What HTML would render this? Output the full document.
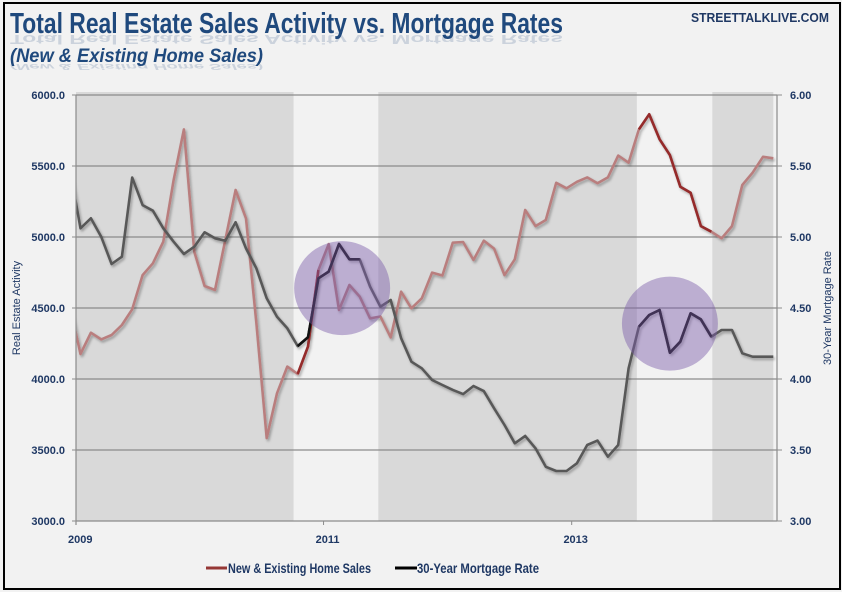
<!DOCTYPE html>
<html><head><meta charset="utf-8"><style>
html,body{margin:0;padding:0;background:#fff;}
svg{display:block;font-family:"Liberation Sans",sans-serif;}
</style></head><body>
<svg id="chart" width="842" height="592" viewBox="0 0 842 592">
<defs>
<filter id="sh" x="-5%" y="-5%" width="110%" height="115%"><feDropShadow dx="1.5" dy="2" stdDeviation="1.2" flood-color="#000" flood-opacity="0.3"/></filter>
<clipPath id="plotclip"><rect x="76" y="80" width="702" height="445"/></clipPath>
</defs>
<rect x="0" y="0" width="842" height="592" fill="#f2f2f2"/>
<g id="bands"></g>
<g id="grid"></g>
<g id="lines" clip-path="url(#plotclip)"></g>
<g id="circles"></g>
<g id="axes"></g>
<g opacity="0.18">
<text transform="translate(0,35) scale(1,-0.45) translate(0,-33)" x="10" y="33" font-size="29" font-weight="bold" fill="#1f497d" textLength="553" lengthAdjust="spacingAndGlyphs">Total Real Estate Sales Activity vs. Mortgage Rates</text>
<text transform="translate(0,64) scale(1,-0.45) translate(0,-62)" x="10" y="62" font-size="19" font-weight="bold" font-style="italic" fill="#1f497d" textLength="253" lengthAdjust="spacingAndGlyphs">(New &amp; Existing Home Sales)</text>
</g>
<text x="10" y="33" font-size="29" font-weight="bold" fill="#1f497d" textLength="553" lengthAdjust="spacingAndGlyphs">Total Real Estate Sales Activity vs. Mortgage Rates</text>
<text x="10" y="62" font-size="19" font-weight="bold" font-style="italic" fill="#1f497d" textLength="253" lengthAdjust="spacingAndGlyphs">(New &amp; Existing Home Sales)</text>
<text x="829" y="22" font-size="12.5" font-weight="bold" fill="#1f3864" text-anchor="end" textLength="138" lengthAdjust="spacingAndGlyphs">STREETTALKLIVE.COM</text>
<text transform="translate(20,308) rotate(-90)" font-size="11" fill="#1f3864" text-anchor="middle">Real Estate Activity</text>
<text transform="translate(831,308) rotate(-90)" font-size="11" fill="#1f3864" text-anchor="middle">30-Year Mortgage Rate</text>
<g>
<g>
<line x1="206" y1="568" x2="227" y2="568" stroke="#953735" stroke-width="3"/>
<text x="228" y="573" font-size="14" font-weight="bold" fill="#1f3864" textLength="143" lengthAdjust="spacingAndGlyphs">New &amp; Existing Home Sales</text></g>
<g>
<line x1="395" y1="568" x2="417" y2="568" stroke="#000" stroke-width="3"/>
<text x="417" y="573" font-size="14" font-weight="bold" fill="#1f3864" textLength="122" lengthAdjust="spacingAndGlyphs">30-Year Mortgage Rate</text></g>
</g>
<rect x="4" y="3" width="836" height="586" fill="none" stroke="#000" stroke-width="2"/>
</svg>
<script>
// i = 0 is Dec 2008, monthly
const salesValues = [4505,4176,4326,4279,4310,4380,4491,4732,4815,4967,5400,5758,4896,4655,4627,4979,5331,5131,4400,3584,3899,4087,4035,4228,4767,4950,4486,4662,4580,4427,4440,4293,4615,4498,4568,4749,4729,4960,4965,4838,4974,4918,4732,4843,5190,5077,5120,5382,5343,5389,5420,5378,5420,5573,5523,5758,5864,5688,5577,5354,5312,5077,5037,4991,5077,5366,5453,5565,5554];
const rateValues = [5.47,5.061,5.132,5.002,4.810,4.861,5.418,5.225,5.185,5.061,4.967,4.880,4.932,5.033,4.991,4.974,5.104,4.920,4.780,4.568,4.439,4.357,4.232,4.294,4.709,4.756,4.951,4.843,4.843,4.650,4.509,4.556,4.287,4.122,4.075,3.993,3.958,3.923,3.894,3.951,3.915,3.794,3.676,3.547,3.599,3.512,3.382,3.352,3.352,3.406,3.535,3.566,3.453,3.535,4.075,4.368,4.451,4.486,4.185,4.263,4.463,4.420,4.298,4.345,4.345,4.181,4.157,4.157,4.157];
const leftTicks = ["3000.0","3500.0","4000.0","4500.0","5000.0","5500.0","6000.0"];
const rightTicks = ["3.00","3.50","4.00","4.50","5.00","5.50","6.00"];
const yearLabels = ["2009","2011","2013"];
const yearMonthIndex = [1,25,49];
const bandRanges = [[0.5,21.6],[29.8,54.8],[62.1,68]];
const darkSalesRanges = [[22,24],[55,62]];
const darkRateRanges = [[22,28],[55,62]];
const circleCenters = [[26.3,4640],[58,4390]];

const NS="http://www.w3.org/2000/svg";
const X0=70.2, DX=10.34, YT=95, YB=521;
const xs=i=>X0+DX*i;
const yL=v=>YB-(v-3000)/3000*(YB-YT);
const yR=v=>YB-(v-3)/3*(YB-YT);
function mk(tag,attrs,parent){const e=document.createElementNS(NS,tag);for(const k in attrs)e.setAttribute(k,attrs[k]);parent.appendChild(e);return e;}
const bands=document.getElementById('bands'),grid=document.getElementById('grid'),lines=document.getElementById('lines'),circles=document.getElementById('circles'),axes=document.getElementById('axes');

bandRanges.forEach(r=>{
  const x1=Math.max(76,xs(r[0])), x2=Math.min(776,xs(r[1]));
  const b=mk('rect',{x:x1,y:92,width:x2-x1,height:YB-92,fill:'#d9d9d9'},bands);
  
  
});
leftTicks.forEach((t,k)=>{
  const v=3000+500*k, y=yL(v);
  if(k>0){const g=mk('line',{x1:76,x2:777,y1:y,y2:y,stroke:'#8c8c8c','stroke-width':1.2},grid);
  
  }
  const tl=mk('text',{x:65,y:y+4,'font-size':11,'font-weight':'bold',fill:'#1f3864','text-anchor':'end'},axes);
  tl.textContent=t;
  
  
  mk('line',{x1:72,x2:76,y1:y,y2:y,stroke:'#8c8c8c'},axes);
});
rightTicks.forEach((t,k)=>{
  const v=3+0.5*k, y=yR(v);
  const tl=mk('text',{x:790,y:y+4,'font-size':11,'font-weight':'bold',fill:'#1f3864'},axes);
  tl.textContent=t;
  
  
  mk('line',{x1:777,x2:782,y1:y,y2:y,stroke:'#8c8c8c'},axes);
});
mk('line',{x1:76,x2:76,y1:YT,y2:YB+4,stroke:'#8c8c8c','stroke-width':1.2},axes);
mk('line',{x1:777,x2:777,y1:YT,y2:YB,stroke:'#8c8c8c','stroke-width':1.2},axes);
mk('line',{x1:76,x2:777,y1:YB,y2:YB,stroke:'#8c8c8c','stroke-width':1.2},axes);
yearLabels.forEach((t,k)=>{
  const x=Math.max(76,xs(yearMonthIndex[k])-10.34/2);
  mk('line',{x1:x,x2:x,y1:YB,y2:YB+4,stroke:'#8c8c8c'},axes);
  const tl=mk('text',{x:k==0?68:x+4,y:543,'font-size':11,'font-weight':'bold',fill:'#1f3864','text-anchor':k==0?'start':'middle'},axes);
  tl.textContent=t;
  
  
});
function pathFor(vals,yf,a,b){let d='';for(let i=a;i<=b;i++)d+=(i==a?'M':'L')+xs(i).toFixed(1)+','+yf(vals[i]).toFixed(1);return d;}
const sl=mk('path',{d:pathFor(salesValues,yL,0,salesValues.length-1),fill:'none',stroke:'#b97e7e','stroke-width':2.6,'stroke-linejoin':'round',filter:'url(#sh)'},lines);


const rl=mk('path',{d:pathFor(rateValues,yR,0,rateValues.length-1),fill:'none',stroke:'#595959','stroke-width':2.6,'stroke-linejoin':'round',filter:'url(#sh)'},lines);


darkSalesRanges.forEach(r=>{
  const p=mk('path',{d:pathFor(salesValues,yL,r[0],r[1]),fill:'none',stroke:'#952b2b','stroke-width':2.6,'stroke-linejoin':'round'},lines);
  
  
});
darkRateRanges.forEach(r=>{
  const p=mk('path',{d:pathFor(rateValues,yR,r[0],r[1]),fill:'none',stroke:'#111','stroke-width':2.6,'stroke-linejoin':'round'},lines);
  
  
});
circleCenters.forEach(c=>{
  const e=mk('ellipse',{cx:xs(c[0]),cy:yL(c[1]),rx:48,ry:47,fill:'#7b5ba8','fill-opacity':0.45},circles);
  
  
});
</script>
</body></html>
